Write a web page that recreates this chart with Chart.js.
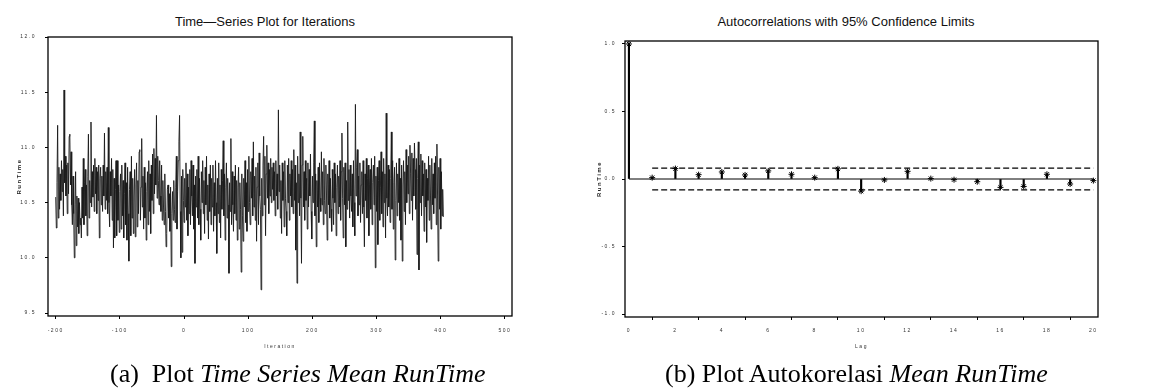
<!DOCTYPE html>
<html>
<head>
<meta charset="utf-8">
<script src="https://cdn.jsdelivr.net/npm/chart.js@4.4.1/dist/chart.umd.min.js"></script>
<style>
  body { margin: 0; background: #fff; width: 1161px; height: 390px; position: relative; overflow: hidden; }
  canvas { position: absolute; top: 0; }
  #ts-chart { left: 0; }
  #acf-chart { left: 580px; }
  .plot-title { position: absolute; top: 14px; line-height: 15px; font-family: "Liberation Sans", Arial, sans-serif; font-size: 13px; color: #111; white-space: nowrap; transform: translateX(-50%); }
  .caption { position: absolute; top: 361px; line-height: 26px; font-family: "Liberation Serif", "Times New Roman", serif; font-size: 26px; color: #000; white-space: nowrap; }
</style>
</head>
<body>
<div class="plot-title" style="left:265px">Time&#8212;Series Plot for Iterations</div>
<div class="plot-title" style="left:846px">Autocorrelations with 95% Confidence Limits</div>
<canvas id="ts-chart" width="580" height="360"></canvas>
<canvas id="acf-chart" width="581" height="360"></canvas>
<div class="caption" style="left:110px">(a)&nbsp; Plot <i>Time Series Mean RunTime</i></div>
<div class="caption" style="left:665px">(b) Plot Autokorelasi <i>Mean RunTime</i></div>
<script>
// Time series of mean run time, iterations -200 .. 404
const iterationStart = -200;
const runTime = [
    10.55, 10.27, 10.68, 11.20, 10.36, 10.82, 10.44, 10.76, 10.52, 10.88,
    10.60, 10.80, 10.38, 11.52, 10.68, 10.92, 10.56, 10.84, 10.40, 10.86,
    10.58, 11.10, 11.12, 10.66, 10.96, 10.48, 10.30, 10.74, 10.40, 10.00,
    10.48, 10.78, 10.11, 10.56, 10.28, 10.54, 10.22, 10.50, 10.30, 10.36,
    10.18, 10.64, 10.36, 10.90, 10.30, 10.68, 10.80, 10.38, 10.66, 10.20,
    10.74, 11.12, 10.36, 10.70, 10.50, 11.23, 10.46, 10.78, 10.55, 10.84,
    10.42, 10.90, 10.58, 10.82, 10.40, 10.78, 10.52, 10.84, 10.18, 10.72,
    10.82, 10.48, 10.74, 10.42, 10.84, 10.56, 11.13, 10.44, 10.78, 10.52,
    10.82, 10.40, 11.18, 10.50, 10.28, 10.78, 10.56, 10.90, 10.34, 10.80,
    10.09, 10.72, 10.18, 10.62, 10.88, 10.20, 10.88, 10.34, 10.66, 10.23,
    // -100
    10.60, 10.76, 10.26, 10.84, 10.38, 10.70, 10.18, 10.58, 10.86, 10.30,
    10.68, 10.16, 10.82, 10.40, 9.97, 10.62, 10.78, 10.20, 10.92, 10.36,
    10.72, 10.22, 10.56, 10.80, 10.19, 10.66, 10.86, 10.28, 10.70, 10.40,
    10.96, 10.98, 10.34, 10.64, 11.08, 10.46, 10.74, 10.26, 10.82, 10.36,
    10.68, 10.16, 10.60, 10.78, 10.30, 10.88, 10.42, 10.76, 10.22, 10.84,
    10.52, 10.94, 10.40, 10.99, 10.58, 10.90, 10.66, 11.29, 10.54, 10.92,
    10.70, 10.48, 10.88, 10.56, 10.42, 10.84, 10.34, 10.70, 10.46, 10.30,
    10.76, 10.42, 10.10, 10.22, 10.62, 10.66, 10.36, 10.58, 10.24, 10.64,
    9.92, 10.40, 10.60, 10.34, 10.70, 10.44, 10.32, 10.64, 10.92, 10.26,
    10.60, 10.88, 11.05, 11.29, 10.42, 10.00, 10.74, 10.05, 10.80, 10.52,
    // 0
    10.32, 10.72, 10.46, 10.86, 10.34, 10.76, 10.20, 10.64, 10.40, 10.80,
    10.30, 10.88, 10.56, 10.38, 10.84, 10.26, 10.66, 9.95, 10.74, 10.46,
    10.80, 10.36, 10.92, 10.30, 10.72, 10.44, 10.16, 10.78, 10.50, 10.88,
    10.40, 10.70, 10.22, 10.82, 10.48, 10.92, 10.34, 10.66, 10.17, 10.76,
    10.42, 10.84, 10.30, 10.72, 10.46, 10.84, 10.24, 10.68, 10.38, 10.88,
    10.50, 10.04, 10.72, 10.40, 10.86, 10.32, 10.66, 10.18, 10.80, 10.44,
    10.70, 11.06, 10.38, 10.76, 10.16, 10.64, 10.86, 10.36, 10.72, 10.48,
    9.86, 10.68, 10.42, 11.08, 10.30, 10.78, 10.48, 10.24, 10.74, 10.40,
    10.84, 10.34, 10.70, 10.16, 10.64, 10.82, 10.26, 10.68, 10.44, 9.87,
    10.76, 10.38, 10.15, 10.72, 10.46, 10.88, 10.32, 10.68, 10.24, 10.80,
    // 100
    10.42, 10.92, 10.50, 10.30, 10.78, 10.54, 10.90, 10.38, 11.05, 10.46,
    10.74, 10.34, 10.82, 10.15, 10.64, 10.86, 10.30, 10.95, 10.56, 10.44,
    9.71, 10.72, 10.38, 10.84, 11.10, 10.48, 10.92, 10.20, 10.76, 11.02,
    10.54, 10.86, 10.40, 10.80, 10.56, 10.90, 10.50, 10.82, 10.62, 10.86,
    10.52, 10.78, 10.38, 10.88, 10.56, 10.76, 10.44, 11.34, 10.60, 10.84,
    10.36, 10.70, 10.22, 10.86, 10.52, 10.78, 10.28, 10.88, 10.54, 10.42,
    10.20, 10.84, 10.50, 10.90, 10.34, 10.76, 10.56, 10.88, 10.46, 10.80,
    10.40, 10.98, 10.52, 10.84, 10.07, 10.68, 9.77, 10.92, 10.50, 10.76,
    10.38, 11.14, 10.54, 9.95, 10.84, 11.10, 10.46, 10.78, 10.34, 10.88,
    10.52, 10.72, 10.26, 10.86, 10.46, 10.80, 10.56, 10.94, 10.42, 10.17,
    // 200
    10.74, 10.50, 10.86, 11.24, 10.38, 10.76, 10.10, 10.70, 10.46, 10.82,
    10.32, 10.86, 10.54, 10.42, 10.96, 10.48, 10.78, 10.30, 10.90, 10.52,
    10.40, 10.84, 10.56, 10.16, 10.76, 10.48, 10.88, 10.36, 10.72, 10.44,
    10.24, 10.80, 10.54, 10.30, 10.86, 10.50, 10.76, 10.20, 10.64, 10.84,
    10.40, 10.74, 10.46, 10.88, 10.34, 10.78, 11.13, 10.54, 10.18, 10.82,
    10.48, 10.86, 10.10, 10.70, 10.44, 11.23, 10.52, 10.80, 10.36, 10.84,
    10.56, 10.42, 10.76, 10.28, 10.88, 10.50, 10.20, 11.39, 10.56, 10.82,
    10.98, 10.38, 10.74, 10.48, 10.86, 10.32, 10.66, 10.78, 10.40, 10.88,
    10.46, 10.10, 10.76, 10.52, 10.90, 10.36, 10.72, 10.84, 10.20, 10.66,
    10.80, 10.44, 10.90, 10.30, 10.68, 10.84, 10.48, 10.92, 9.91, 10.74,
    // 300
    10.42, 10.82, 10.12, 10.70, 10.88, 10.34, 10.64, 10.96, 10.40, 10.78,
    10.28, 10.90, 10.50, 10.76, 10.18, 11.31, 10.54, 10.38, 10.84, 10.46,
    10.80, 10.32, 10.72, 11.14, 10.44, 10.88, 10.26, 10.68, 10.82, 9.98,
    10.52, 10.86, 10.38, 10.76, 10.50, 10.90, 10.34, 10.72, 10.16, 10.84,
    9.97, 10.66, 10.88, 10.42, 10.78, 10.30, 10.98, 10.50, 10.84, 10.58,
    10.92, 10.40, 11.02, 10.76, 10.52, 10.95, 10.34, 10.90, 10.56, 11.04,
    10.80, 10.44, 10.90, 10.03, 10.72, 11.05, 9.89, 10.84, 10.50, 10.94,
    10.38, 10.88, 10.56, 10.76, 10.24, 10.86, 10.46, 10.80, 10.14, 10.72,
    10.52, 10.92, 10.34, 10.84, 10.56, 10.26, 10.90, 10.48, 10.76, 10.40,
    10.86, 10.54, 10.92, 10.30, 11.03, 10.56, 9.97, 10.82, 10.44, 10.90,
    // 400
    10.26, 10.78, 10.38, 10.62, 10.37
];
const tsTicksX = [-200, -100, 0, 100, 200, 300, 400, 500];
const tsTicksY = [9.5, 10.0, 10.5, 11.0, 11.5, 12.0];

// Autocorrelations, lags 0 .. 20
const lags = [0, 1, 2, 3, 4, 5, 6, 7, 8, 9, 10, 11, 12, 13, 14, 15, 16, 17, 18, 19, 20];
const autocorr = [1.0, 0.01, 0.077, 0.032, 0.052, 0.03, 0.06, 0.035, 0.01, 0.075,
    -0.09, -0.007, 0.057, 0.003, -0.005, -0.02, -0.062, -0.055, 0.035, -0.037, -0.012];
const confLimit = 0.08;
const acfTicksX = [0, 2, 4, 6, 8, 10, 12, 14, 16, 18, 20];
const acfTicksY = [-1.0, -0.5, 0.0, 0.5, 1.0];

const tickFont = { family: "'Liberation Sans', Arial, sans-serif", size: 5 };
const labelFont = { family: "'Liberation Sans', Arial, sans-serif", size: 6, weight: 'bold' };

// SAS style frame round the plot, plus spaced-out small axis text
const framePlugin = {
    id: 'frame',
    beforeDraw(chart) {
        chart.ctx.letterSpacing = '1.5px';
    },
    afterDraw(chart) {
        const { ctx, chartArea: a } = chart;
        ctx.save();
        ctx.strokeStyle = '#000';
        ctx.lineWidth = 1.3;
        ctx.strokeRect(a.left, a.top, a.right - a.left, a.bottom - a.top);
        ctx.restore();
        ctx.letterSpacing = '0px';
    }
};

function fixedTicks(list) {
    return function (scale) {
        scale.ticks = list.map(v => ({ value: v }));
    };
}

const tickGrid = { drawOnChartArea: false, drawTicks: true, tickLength: 3, color: '#000', lineWidth: 1 };

new Chart(document.getElementById('ts-chart'), {
    type: 'line',
    data: {
        datasets: [{
            data: runTime.map((v, i) => ({ x: iterationStart + i, y: v })),
            borderColor: '#1a1a1a',
            borderWidth: 0.9,
            pointRadius: 0,
            tension: 0
        }]
    },
    options: {
        responsive: false,
        animation: false,
        layout: { padding: { top: 37, right: 68, left: 0, bottom: 0 } },
        plugins: { legend: { display: false }, tooltip: { enabled: false } },
        scales: {
            x: {
                type: 'linear',
                min: -212,
                max: 511,
                afterBuildTicks: fixedTicks(tsTicksX),
                afterFit: s => { s.height = 44; },
                grid: tickGrid,
                border: { display: false },
                ticks: { font: tickFont, color: '#333', padding: 9, maxRotation: 0, autoSkip: false, callback: v => String(v) },
                title: { display: true, text: 'Iteration', font: tickFont, color: '#333', padding: { top: 0, bottom: 10 } }
            },
            y: {
                min: 9.473,
                max: 12.0,
                afterBuildTicks: fixedTicks(tsTicksY),
                afterFit: s => { s.width = 48; },
                grid: tickGrid,
                border: { display: false },
                ticks: { font: tickFont, color: '#333', padding: 9, autoSkip: false, callback: v => v.toFixed(1) },
                title: { display: true, text: 'RunTime', font: labelFont, color: '#222', padding: { top: 16, bottom: 0 } }
            }
        }
    },
    plugins: [framePlugin]
});

new Chart(document.getElementById('acf-chart'), {
    type: 'bar',
    data: {
        datasets: [
            {
                type: 'bar',
                data: lags.map((l, i) => ({ x: l, y: autocorr[i] })),
                backgroundColor: '#000',
                barThickness: 1.5,
                order: 3
            },
            {
                type: 'line',
                data: lags.map((l, i) => ({ x: l, y: autocorr[i] })),
                showLine: false,
                pointStyle: 'star',
                pointRadius: 3,
                borderColor: '#000',
                borderWidth: 1,
                clip: false,
                order: 1
            },
            {
                type: 'line',
                data: [{ x: lags[0], y: 0 }, { x: lags[lags.length - 1], y: 0 }],
                borderColor: '#000',
                borderWidth: 1,
                pointRadius: 0,
                order: 2
            },
            {
                type: 'line',
                data: [{ x: lags[1], y: confLimit }, { x: lags[lags.length - 1], y: confLimit }],
                borderColor: '#000',
                borderWidth: 1.3,
                borderDash: [6, 3],
                pointRadius: 0,
                order: 2
            },
            {
                type: 'line',
                data: [{ x: lags[1], y: -confLimit }, { x: lags[lags.length - 1], y: -confLimit }],
                borderColor: '#000',
                borderWidth: 1.3,
                borderDash: [6, 3],
                pointRadius: 0,
                order: 2
            }
        ]
    },
    options: {
        responsive: false,
        animation: false,
        layout: { padding: { top: 41, right: 63, left: 0, bottom: 0 } },
        plugins: { legend: { display: false }, tooltip: { enabled: false } },
        scales: {
            x: {
                type: 'linear',
                offset: false,
                min: -0.17,
                max: 20.2,
                afterBuildTicks: fixedTicks(acfTicksX),
                afterFit: s => { s.height = 43; },
                grid: tickGrid,
                border: { display: false },
                ticks: { font: tickFont, color: '#333', padding: 8, maxRotation: 0, autoSkip: false, callback: v => String(v) },
                title: { display: true, text: 'Lag', font: tickFont, color: '#333', padding: { top: 0, bottom: 10 } }
            },
            y: {
                min: -1.022,
                max: 1.022,
                afterBuildTicks: fixedTicks(acfTicksY),
                afterFit: s => { s.width = 45; },
                grid: tickGrid,
                border: { display: false },
                ticks: { font: tickFont, color: '#333', padding: 6, autoSkip: false, callback: v => v.toFixed(1) },
                title: { display: true, text: 'RunTime', font: labelFont, color: '#222', padding: { top: 16, bottom: 0 } }
            }
        }
    },
    plugins: [framePlugin]
});
</script>
</body>
</html>
